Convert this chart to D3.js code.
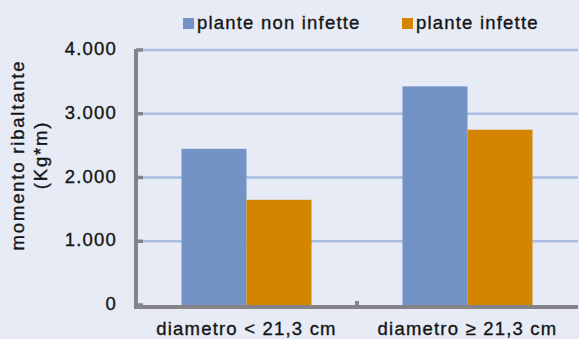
<!DOCTYPE html>
<html>
<head>
<meta charset="utf-8">
<script src="https://cdn.jsdelivr.net/npm/d3@7"></script>
<style>
  body { margin: 0; background: #e7ebf6; }
  svg { display: block; font-family: "Liberation Sans", Arial, sans-serif; }
  text { fill: #151515; stroke: #151515; stroke-width: 0.35px; font-size: 18.5px; letter-spacing: 1.2px; }
</style>
</head>
<body>
<svg id="chart" width="579" height="339"></svg>
<script>
// data
var categories = ["diametro < 21,3 cm", "diametro \u2265 21,3 cm"];
var seriesNames = ["plante non infette", "plante infette"];
var nonInfette = [2450, 3430];
var infette = [1650, 2750];
var yTicks = [0, 1000, 2000, 3000, 4000];
var colors = ["#7393c6", "#d48500"];

var svg = d3.select("#chart");
var margin = {left: 136, right: 1, top: 50, bottom: 34};
var width = 579 - margin.left - margin.right;
var height = 339 - margin.top - margin.bottom;

var g = svg.append("g")
    .attr("transform", "translate(" + margin.left + "," + margin.top + ")");

var x = d3.scaleBand()
    .domain(categories)
    .range([0, width])
    .paddingInner(0)
    .paddingOuter(0);

var y = d3.scaleLinear()
    .domain([0, 4000])
    .range([height, 0]);

var x1 = d3.scaleBand()
    .domain(seriesNames)
    .range([0, x.bandwidth()])
    .paddingInner(0)
    .paddingOuter(0.7);

// gridlines
g.selectAll("line.grid")
    .data(yTicks.filter(function(d) { return d > 0; }))
    .enter().append("line")
    .attr("class", "grid")
    .attr("x1", 0)
    .attr("x2", width)
    .attr("y1", function(d) { return y(d); })
    .attr("y2", function(d) { return y(d); })
    .attr("stroke", "#a9bde2")
    .attr("stroke-width", 2.5);

// bars
var rows = categories.map(function(c, i) {
    return {cat: c, values: [nonInfette[i], infette[i]]};
});

var groups = g.selectAll("g.cat")
    .data(rows)
    .enter().append("g")
    .attr("class", "cat")
    .attr("transform", function(d) { return "translate(" + x(d.cat) + ",0)"; });

groups.selectAll("rect")
    .data(function(d) {
        return d.values.map(function(v, j) { return {name: seriesNames[j], value: v, color: colors[j]}; });
    })
    .enter().append("rect")
    .attr("x", function(d) { return x1(d.name); })
    .attr("width", x1.bandwidth())
    .attr("y", function(d) { return y(d.value); })
    .attr("height", function(d) { return height - y(d.value); })
    .attr("fill", function(d) { return d.color; });

// y axis
var yAxis = d3.axisLeft(y)
    .tickValues(yTicks)
    .tickFormat(function(d) { return d === 0 ? "0" : d3.format(",")(d).replace(",", "."); })
    .tickSize(0)
    .tickPadding(19);

var ya = g.append("g").call(yAxis);
ya.select(".domain").remove();
ya.attr("font-size", null).attr("font-family", null);
ya.selectAll("text")
    .attr("fill", null)
    .attr("dy", "0.25em");

// inner tick marks
g.selectAll("line.ytick")
    .data(yTicks)
    .enter().append("line")
    .attr("class", "ytick")
    .attr("x1", 0)
    .attr("x2", 7)
    .attr("y1", function(d) { return y(d); })
    .attr("y2", function(d) { return y(d); })
    .attr("stroke", "#858388")
    .attr("stroke-width", 3.5);

// axis lines
g.append("line")
    .attr("x1", 0).attr("x2", 0)
    .attr("y1", -1).attr("y2", height + 2)
    .attr("stroke", "#858388")
    .attr("stroke-width", 4);

g.append("line")
    .attr("x1", -2).attr("x2", width)
    .attr("y1", height + 2).attr("y2", height + 2)
    .attr("stroke", "#858388")
    .attr("stroke-width", 4);

// x category separators
g.selectAll("line.xtick")
    .data(categories.slice(1))
    .enter().append("line")
    .attr("class", "xtick")
    .attr("x1", function(d) { return x(d); })
    .attr("x2", function(d) { return x(d); })
    .attr("y1", height - 4)
    .attr("y2", height + 2)
    .attr("stroke", "#858388")
    .attr("stroke-width", 4);

// x labels
var xAxis = d3.axisBottom(x).tickSize(0).tickPadding(0);
var xa = g.append("g")
    .attr("transform", "translate(0," + height + ")")
    .call(xAxis);
xa.select(".domain").remove();
xa.attr("font-size", null).attr("font-family", null);
xa.selectAll("text")
    .attr("fill", null)
    .attr("y", 30)
    .attr("dy", null);

// y title
var yt = svg.append("text")
    .attr("transform", "translate(24,155) rotate(-90)")
    .attr("text-anchor", "middle")
    .style("letter-spacing", "1.8px");
yt.append("tspan").attr("x", 0).attr("y", 0).text("momento ribaltante");
yt.append("tspan").attr("x", 0).attr("y", 23).text("(Kg*m)");

// legend
var legendX = [183, 402];
var legend = svg.selectAll("g.legend")
    .data(seriesNames)
    .enter().append("g")
    .attr("class", "legend")
    .attr("transform", function(d, i) { return "translate(" + legendX[i] + ",18)"; });

legend.append("rect")
    .attr("width", 11)
    .attr("height", 11)
    .attr("fill", function(d, i) { return colors[i]; });

legend.append("text")
    .attr("x", 14)
    .attr("y", 11)
    .text(function(d) { return d; });
</script>
</body>
</html>
